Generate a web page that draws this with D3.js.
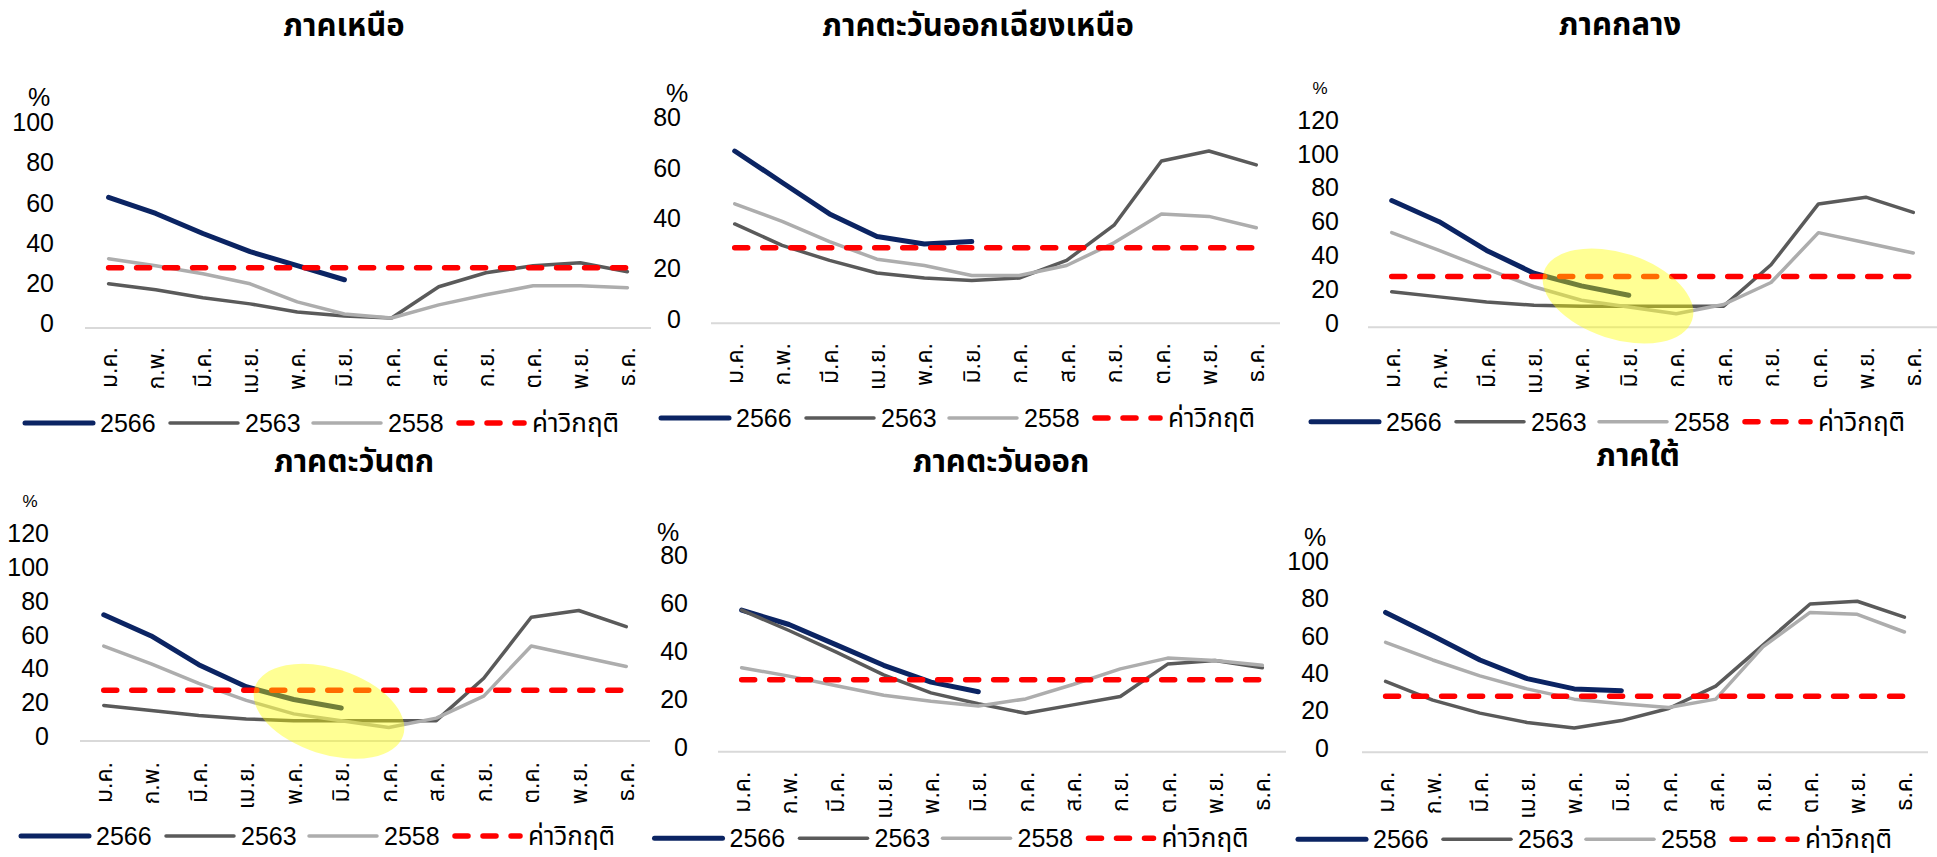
<!DOCTYPE html>
<html>
<head>
<meta charset="utf-8">
<script src="https://cdn.jsdelivr.net/npm/d3@7"></script>
<style>
  body { margin: 0; background: #ffffff; }
  svg { display: block; }
  text { font-family: "Liberation Sans", Arial, "Noto Sans Thai", "Noto Sans", sans-serif; fill: #000; }
</style>
</head>
<body>
<svg id="chart" width="1937" height="857"></svg>
<script>
// Month categories (Thai abbreviations)
const months = ["ม.ค.", "ก.พ.", "มี.ค.", "เม.ย.", "พ.ค.", "มิ.ย.", "ก.ค.", "ส.ค.", "ก.ย.", "ต.ค.", "พ.ย.", "ธ.ค."];
const seriesNames = ["2566", "2563", "2558"];
const thresholdName = "ค่าวิกฤติ";
const threshold = 30;

// Region titles
const regionTitles = ["ภาคเหนือ", "ภาคตะวันออกเฉียงเหนือ", "ภาคกลาง", "ภาคตะวันตก", "ภาคตะวันออก", "ภาคใต้"];

// Y-axis maxima per region (ticks every 20)
const yMaxima = [100, 80, 120, 120, 80, 100];

// ภาคเหนือ
const north2566 = [65, 57, 47, 38, 31, 24];
const north2563 = [22, 19, 15, 12, 8, 6, 5, 20.5, 27.5, 31, 32.5, 28];
const north2558 = [34.5, 31, 27, 22, 13, 7, 5, 11.5, 16.5, 21, 21, 20];

// ภาคตะวันออกเฉียงเหนือ
const northeast2566 = [68.5, 56, 43.5, 34.5, 31.5, 32.5];
const northeast2563 = [39.5, 31, 25, 20, 18, 17, 18, 25, 39, 64.5, 68.5, 63];
const northeast2558 = [47.5, 40.5, 32.5, 25.5, 23, 19, 19, 23, 32, 43.5, 42.5, 38];

// ภาคกลาง
const central2566 = [75, 62.5, 45.5, 32, 24.5, 19];
const central2563 = [21, 18, 15, 13, 12.5, 12.5, 12.5, 12.5, 37, 73, 77, 68];
const central2558 = [56, 45.5, 34.5, 24, 16, 12, 8, 13.5, 26.5, 56, 50, 44];

// ภาคตะวันตก
const west2566 = [74.5, 62, 45, 32, 24.5, 19.5];
const west2563 = [21, 18, 15, 13, 12, 12, 12, 12, 37, 73, 77, 67.5];
const west2558 = [56, 45.5, 34, 24, 16, 12, 8, 13.5, 26.5, 56, 50, 44];

// ภาคตะวันออก
const east2566 = [59, 53, 44.5, 36, 29, 25];
const east2563 = [59, 50.5, 41.5, 32, 24.5, 20, 16, 19.5, 23, 36.5, 38, 35];
const east2558 = [35, 31.5, 27.5, 23.5, 21, 19, 22, 28, 34.5, 39, 38, 36];

// ภาคใต้
const south2566 = [75, 62.5, 49.5, 39.5, 34, 33];
const south2563 = [38, 28, 21, 16, 13, 17, 23.5, 35.5, 57.5, 79.5, 81, 72.5];
const south2558 = [59, 49.5, 41, 34, 28.5, 26, 24, 28.5, 56.5, 75, 74, 64.5];

const regionSeries = [
  [north2566, north2563, north2558],
  [northeast2566, northeast2563, northeast2558],
  [central2566, central2563, central2558],
  [west2566, west2563, west2558],
  [east2566, east2563, east2558],
  [south2566, south2563, south2558]
];

// Styling
const colors = ["#0b2463", "#5a5a5a", "#adadad"];
const widths = [5, 3.5, 3.5];
const red = "#ff0000";

// Panel layout boxes
const layouts = [
  { x0: 85,   x1: 651,  yBase: 328,   yTop: 127,   labelRight: 54,   titleX: 344,  titleY: 25,  pctX: 39,   pctY: 97,  pctSize: 25, monthTop: 347, legendX: 25,   legendY: 423 },
  { x0: 711,  x1: 1280, yBase: 323.3, yTop: 122.1, labelRight: 681,  titleX: 978,  titleY: 25,  pctX: 677,  pctY: 93,  pctSize: 25, monthTop: 343, legendX: 661,  legendY: 418 },
  { x0: 1368, x1: 1937, yBase: 327.3, yTop: 124.5, labelRight: 1339, titleX: 1620, titleY: 24,  pctX: 1320, pctY: 88,  pctSize: 17, monthTop: 347, legendX: 1311, legendY: 421.7,
    highlight: { cx: 1618, cy: 296, rx: 78, ry: 43, angle: 18 } },
  { x0: 80,   x1: 650,  yBase: 741,   yTop: 537.6, labelRight: 49,   titleX: 354,  titleY: 461.7, pctX: 30,  pctY: 501.7, pctSize: 17, monthTop: 762, legendX: 21, legendY: 836,
    highlight: { cx: 329, cy: 711.3, rx: 78, ry: 43, angle: 18 } },
  { x0: 718,  x1: 1286, yBase: 751.7, yTop: 559.7, labelRight: 688,  titleX: 1001, titleY: 461.7, pctX: 668, pctY: 531.7, pctSize: 25, monthTop: 771.7, legendX: 654.5, legendY: 838.3 },
  { x0: 1362, x1: 1928, yBase: 752.3, yTop: 565.8, labelRight: 1329, titleX: 1638, titleY: 455, pctX: 1315, pctY: 537.3, pctSize: 25, monthTop: 771.7, legendX: 1298, legendY: 839.3 }
];

const svg = d3.select("#chart");

function drawPanel(i) {
  const p = layouts[i];
  const data = regionSeries[i];
  const g = svg.append("g").attr("class", "panel");

  const x = d3.scaleBand().domain(months).range([p.x0, p.x1]);
  const cx = m => x(m) + x.bandwidth() / 2;
  const y = d3.scaleLinear().domain([0, yMaxima[i]]).range([p.yBase, p.yTop]);

  // title
  g.append("text")
    .attr("x", p.titleX).attr("y", p.titleY)
    .attr("text-anchor", "middle").attr("dominant-baseline", "central")
    .style("font-size", "31px").style("font-weight", "bold")
    .text(regionTitles[i]);

  // unit label
  g.append("text")
    .attr("x", p.pctX).attr("y", p.pctY)
    .attr("text-anchor", "middle").attr("dominant-baseline", "central")
    .style("font-size", p.pctSize + "px")
    .text("%");

  // baseline
  g.append("line")
    .attr("x1", p.x0).attr("x2", p.x1)
    .attr("y1", y(0)).attr("y2", y(0))
    .attr("stroke", "#d9d9d9").attr("stroke-width", 2);

  // y axis labels
  const yAxis = g.append("g")
    .attr("transform", `translate(${p.labelRight},0)`)
    .call(d3.axisLeft(y).tickValues(d3.range(0, yMaxima[i] + 1, 20)).tickSize(0).tickPadding(0));
  yAxis.select(".domain").remove();
  yAxis.selectAll("text")
    .attr("y", -5).attr("dy", "0.35em")
    .style("font-size", "25px").style("font-family", "'Liberation Sans', Arial, sans-serif")
    .attr("fill", "#000");

  // month labels
  const xAxis = g.append("g")
    .attr("transform", `translate(0,${p.monthTop})`)
    .call(d3.axisBottom(x).tickSize(0));
  xAxis.select(".domain").remove();
  xAxis.selectAll("text")
    .attr("x", 0).attr("y", 0).attr("dy", "0.35em")
    .attr("transform", "rotate(-90)")
    .style("text-anchor", "end")
    .style("font-size", "23px")
    .attr("fill", "#000");

  // series lines
  const line = d3.line().x((d, k) => cx(months[k])).y(d => y(d));
  data.forEach((vals, s) => {
    g.append("path")
      .datum(vals)
      .attr("d", line)
      .attr("fill", "none")
      .attr("stroke", colors[s])
      .attr("stroke-width", widths[s])
      .attr("stroke-linejoin", "round")
      .attr("stroke-linecap", "round");
  });

  // critical threshold
  g.append("line")
    .attr("x1", cx(months[0])).attr("x2", cx(months[months.length - 1]))
    .attr("y1", y(threshold)).attr("y2", y(threshold))
    .attr("stroke", red).attr("stroke-width", 5.5)
    .attr("stroke-dasharray", "13,15").attr("stroke-linecap", "round");

  // highlight ellipse
  if (p.highlight) {
    const h = p.highlight;
    g.append("ellipse")
      .attr("transform", `translate(${h.cx},${h.cy}) rotate(${h.angle})`)
      .attr("rx", h.rx).attr("ry", h.ry)
      .attr("fill", "#ffff00").attr("fill-opacity", 0.42);
  }

  // legend
  const lg = g.append("g").attr("transform", `translate(${p.legendX},${p.legendY})`);
  const items = seriesNames.map((n, s) => ({ name: n, color: colors[s], width: widths[s], dash: null }))
    .concat([{ name: thresholdName, color: red, width: 5.5, dash: "13,15" }]);
  const offsets = [0, 145, 288, 431];
  items.forEach((it, k) => {
    const ox = offsets[k];
    lg.append("line")
      .attr("x1", ox + (it.dash ? 3 : 0)).attr("x2", ox + 68)
      .attr("y1", 0).attr("y2", 0)
      .attr("stroke", it.color).attr("stroke-width", it.width)
      .attr("stroke-linecap", "round")
      .attr("stroke-dasharray", it.dash);
    lg.append("text")
      .attr("x", ox + (it.dash ? 76 : 75)).attr("y", 0)
      .attr("dominant-baseline", "central")
      .style("font-size", k === 3 ? "26px" : "25px")
      .text(it.name);
  });
}

for (let i = 0; i < 6; i++) drawPanel(i);
</script>
</body>
</html>
